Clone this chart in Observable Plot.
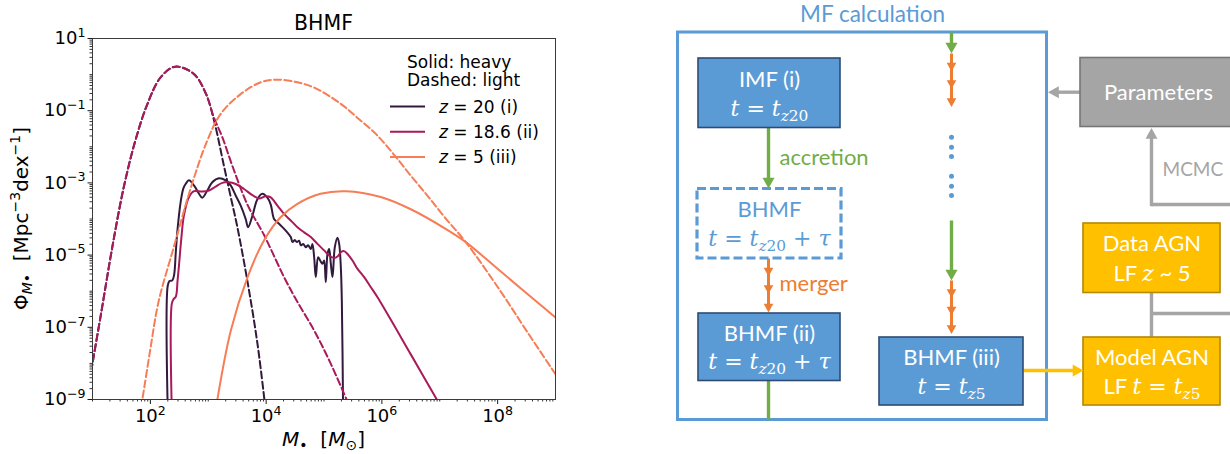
<!DOCTYPE html>
<html>
<head>
<meta charset="utf-8">
<script src="https://cdn.jsdelivr.net/npm/d3@7"></script>
<script src="https://cdn.jsdelivr.net/npm/@observablehq/plot@0.6"></script>
<style>
  html, body { margin: 0; padding: 0; background: #fff; overflow: hidden; }
  #wrap { display: flex; width: 1230px; height: 454px; }
  #wrap svg { display: block; flex: none; }
</style>
</head>
<body>
<div id="wrap"></div>
<script>
// ---------- BHMF curves: log10 M [Msun] and log10 Phi [Mpc^-3 dex^-1] ----------
// heavy seeds (solid)
const heavyZ20LogM   = [2.300, 2.300, 2.330, 2.380, 2.410, 2.440, 2.465, 2.523, 2.570, 2.609, 2.667, 2.753, 2.840, 2.897, 2.984, 3.070, 3.186, 3.301, 3.388, 3.474, 3.561, 3.647, 3.688, 3.763, 3.849, 3.936, 4.022, 4.080, 4.137, 4.195, 4.253, 4.339, 4.426, 4.455, 4.495, 4.530, 4.570, 4.599, 4.639, 4.685, 4.726, 4.772, 4.800, 4.830, 4.858, 4.898, 4.933, 4.974, 5.002, 5.031, 5.060, 5.089, 5.118, 5.147, 5.187, 5.233, 5.262, 5.291, 5.308, 5.330];
const heavyZ20LogPhi = [-9.30, -5.85, -5.72, -5.70, -5.55, -4.90, -4.36, -3.53, -3.15, -3.03, -2.93, -3.07, -3.30, -3.41, -3.21, -2.98, -2.87, -2.93, -3.07, -3.35, -3.63, -4.00, -4.23, -3.91, -3.45, -3.30, -3.41, -3.60, -4.00, -4.09, -4.18, -4.32, -4.50, -4.64, -4.58, -4.64, -4.60, -4.73, -4.69, -4.78, -4.73, -4.83, -4.69, -5.06, -5.61, -5.06, -5.15, -5.24, -5.15, -5.75, -4.97, -4.83, -5.24, -5.61, -4.78, -4.52, -4.69, -5.34, -6.26, -9.30];

const heavyZ186LogM   = [2.370, 2.370, 2.400, 2.440, 2.470, 2.494, 2.534, 2.580, 2.667, 2.753, 2.897, 3.013, 3.128, 3.243, 3.359, 3.474, 3.618, 3.763, 3.878, 3.993, 4.080, 4.195, 4.310, 4.426, 4.541, 4.656, 4.772, 4.887, 5.002, 5.089, 5.175, 5.233, 5.291, 5.348, 5.406, 5.492, 5.579, 5.694, 5.810, 5.925, 6.500, 6.960];
const heavyZ186LogPhi = [-9.30, -6.35, -6.22, -6.15, -5.70, -5.29, -4.55, -3.90, -3.39, -3.23, -3.24, -3.21, -3.10, -3.00, -2.98, -3.03, -3.17, -3.34, -3.43, -3.37, -3.40, -3.63, -3.86, -4.04, -4.23, -4.37, -4.50, -4.69, -4.87, -5.01, -5.08, -5.04, -4.92, -4.89, -4.97, -5.15, -5.38, -5.61, -5.89, -6.17, -7.75, -9.03];

const heavyZ5LogM   = [3.14, 3.39, 3.68, 3.96, 4.25, 4.54, 4.94, 5.38, 5.98, 6.50, 7.13, 7.45, 8.05, 9.00];
const heavyZ5LogPhi = [-9.17, -7.09, -5.61, -4.60, -3.95, -3.58, -3.30, -3.23, -3.39, -3.73, -4.30, -4.64, -5.45, -6.73];

// light seeds (dashed)
const lightZ20LogM   = [0.95, 1.00, 1.15, 1.34, 1.54, 1.74, 1.95, 2.18, 2.43, 2.75, 2.96, 3.10, 3.27, 3.39, 3.50, 3.68, 3.85, 3.97];
const lightZ20LogPhi = [-8.50, -8.00, -6.60, -4.80, -3.12, -1.83, -0.81, -0.07, 0.22, 0.02, -0.53, -1.27, -2.52, -3.40, -4.20, -5.75, -7.45, -9.00];

const lightZ186LogM   = [0.95, 1.00, 1.15, 1.34, 1.54, 1.74, 1.95, 2.18, 2.43, 2.75, 2.96, 3.10, 3.24, 3.415, 3.676, 3.96, 4.08, 4.31, 4.51, 4.83, 5.10, 5.39];
const lightZ186LogPhi = [-8.50, -8.00, -6.60, -4.80, -3.12, -1.83, -0.81, -0.07, 0.22, 0.02, -0.53, -1.20, -1.72, -2.52, -3.60, -4.43, -4.83, -5.61, -6.21, -7.09, -7.95, -9.00];

const lightZ5LogM   = [1.80, 1.86, 2.00, 2.14, 2.41, 2.70, 2.98, 3.21, 3.56, 3.91, 4.17, 4.50, 4.83, 5.29, 5.58, 5.90, 6.20, 6.50, 6.80, 7.10, 7.45, 8.05, 8.50, 9.00];
const lightZ5LogPhi = [-9.50, -9.00, -7.60, -6.30, -4.75, -3.13, -1.84, -1.10, -0.54, -0.21, -0.14, -0.20, -0.36, -0.81, -1.20, -1.65, -2.20, -2.80, -3.38, -3.98, -4.64, -6.00, -7.10, -8.30];

// legend entries
const legendLabels = ["i:z|t: = 20 (i)", "i:z|t: = 18.6 (ii)", "i:z|t: = 5 (iii)"];
const legendNotes = ["Solid: heavy", "Dashed: light"];

// axis ticks
const xMajor = [1e2, 1e4, 1e6, 1e8];
const yMajor = [1e1, 1e-1, 1e-3, 1e-5, 1e-7, 1e-9];

// ---------- flow diagram content ----------
const flowFrame = [{x1: 677.5, x2: 1046.5, y1: 32, y2: 419.5}];
const flowBoxes = [
  {id: "imf",    x1: 698,  x2: 840,  y1: 58,    y2: 127.5, kind: "blue"},
  {id: "tau",    x1: 697,  x2: 841,  y1: 188.5, y2: 258,   kind: "dashed"},
  {id: "ii",     x1: 698,  x2: 840,  y1: 313,   y2: 380.5, kind: "blue"},
  {id: "iii",    x1: 879,  x2: 1023, y1: 337,   y2: 405,   kind: "blue"},
  {id: "model",  x1: 1083, x2: 1220, y1: 337,   y2: 405,   kind: "yellow"},
  {id: "data",   x1: 1083, x2: 1220, y1: 223,   y2: 292.5, kind: "yellow"},
  {id: "params", x1: 1080, x2: 1250, y1: 57.5,  y2: 126.5, kind: "gray"}
];
const flowLinks = [
  {x1: 768,  y1: 127.5, x2: 768,  y2: 180,   kind: "green"},
  {x1: 768,  y1: 380.5, x2: 768,  y2: 419,   kind: "green"},
  {x1: 951,  y1: 32,    x2: 951,  y2: 46,    kind: "green"},
  {x1: 951,  y1: 220,   x2: 951,  y2: 272,   kind: "green"},
  {x1: 768,  y1: 258,   x2: 768,  y2: 305,   kind: "orange"},
  {x1: 951,  y1: 53,    x2: 951,  y2: 100,   kind: "orange"},
  {x1: 951,  y1: 280,   x2: 951,  y2: 327,   kind: "orange"},
  {x1: 1023, y1: 370,   x2: 1074, y2: 370,   kind: "yellow"},
  {x1: 1080, y1: 91.7,  x2: 1057, y2: 91.7,  kind: "gray"},
  {x1: 1151, y1: 292.5, x2: 1151, y2: 337,   kind: "gray"},
  {x1: 1151, y1: 313,   x2: 1250, y2: 313,   kind: "gray"},
  {x1: 1151, y1: 204,   x2: 1250, y2: 204,   kind: "gray"},
  {x1: 1151, y1: 205.7, x2: 1151, y2: 137,   kind: "gray"}
];
const flowHeads = [
  {x: 768,  y: 188,   dir: "down",  kind: "green"},
  {x: 951,  y: 53,    dir: "down",  kind: "green"},
  {x: 951,  y: 280,   dir: "down",  kind: "green"},
  {x: 768,  y: 276,   dir: "down",  kind: "orange"},
  {x: 768,  y: 293.5, dir: "down",  kind: "orange"},
  {x: 768,  y: 312,   dir: "down",  kind: "orange"},
  {x: 951,  y: 71,    dir: "down",  kind: "orange"},
  {x: 951,  y: 88.5,  dir: "down",  kind: "orange"},
  {x: 951,  y: 106.5, dir: "down",  kind: "orange"},
  {x: 951,  y: 297.5, dir: "down",  kind: "orange"},
  {x: 951,  y: 315,   dir: "down",  kind: "orange"},
  {x: 951,  y: 333.5, dir: "down",  kind: "orange"},
  {x: 1083, y: 370,   dir: "right", kind: "yellow"},
  {x: 1047.5, y: 91.7, dir: "left", kind: "gray"},
  {x: 1151, y: 127.5, dir: "up",    kind: "gray"}
];
const flowDots = [136.7, 146.7, 156, 175.7, 185.7, 195].map(y => ({x: 951, y}));
const flowLabels = [
  {x: 872,    y: 14.5,  text: "MF calculation", role: "title"},
  {x: 769,    y: 79,    text: "IMF (i)", role: "fill"},
  {x: 769,    y: 108.5, text: "m:t|M: = |m:t|ms:z|Ms:20", role: "fill"},
  {x: 779,    y: 157,   text: "accretion", role: "green"},
  {x: 769,    y: 209.7, text: "BHMF", role: "outline"},
  {x: 769,    y: 238.7, text: "m:t|M: = |m:t|ms:z|Ms:20|M: + |m:τ", role: "outline"},
  {x: 779,    y: 283,   text: "merger", role: "orange"},
  {x: 769,    y: 333,   text: "BHMF (ii)", role: "fill"},
  {x: 769,    y: 361.3, text: "m:t|M: = |m:t|ms:z|Ms:20|M: + |m:τ", role: "fill"},
  {x: 951,    y: 357,   text: "BHMF (iii)", role: "fill"},
  {x: 951,    y: 386.3, text: "m:t|M: = |m:t|ms:z|Ms:5", role: "fill"},
  {x: 1151.5, y: 357,   text: "Model AGN", role: "fill"},
  {x: 1151.5, y: 386.3, text: "t:LF |m:t|M: = |m:t|ms:z|Ms:5", role: "fill"},
  {x: 1151.5, y: 243.7, text: "Data AGN", role: "fill"},
  {x: 1151.5, y: 273,   text: "t:LF |m:z|t: ~ 5", role: "fill"},
  {x: 1158,   y: 92.3,  text: "Parameters", role: "fill"},
  {x: 1162,   y: 169,   text: "MCMC", role: "gray"}
];

// ---------- styling ----------
const C20 = "#321a3c", C186 = "#aa195a", C5 = "#f67d55";
const BLUE = "#5b9bd5", GREEN = "#70ad47", ORANGE = "#ed7d31", GOLD = "#ffc000", GREY = "#a5a5a5";
const SERIF = "'DejaVu Serif'";
const SANS = "'DejaVu Sans'";
const SVGNS = "http://www.w3.org/2000/svg";

// tiny markup: "code:text|code:text" -> tspans (italic / sub / superscript / math serif)
const STYLES = {
  t:  {},
  i:  {italic: true},
  s:  {scale: 0.7, shift: 0.2},
  is: {italic: true, scale: 0.7, shift: 0.2},
  p:  {scale: 0.7, shift: -0.42},
  m:  {serif: true, italic: true},
  M:  {serif: true},
  ms: {serif: true, italic: true, scale: 0.7, shift: 0.22},
  Ms: {serif: true, scale: 0.7, shift: 0.22}
};
function applyRich(el, px) {
  const src = el.textContent;
  if (!src.includes("|") && !/^[a-zA-Z]{1,2}:/.test(src)) return;
  el.textContent = "";
  el.style.whiteSpace = "pre";
  let shift = 0;
  for (const seg of src.split("|")) {
    const k = seg.indexOf(":");
    const st = STYLES[seg.slice(0, k)] || {};
    const ts = document.createElementNS(SVGNS, "tspan");
    const target = (st.shift || 0) * px;
    if (target !== shift) ts.setAttribute("dy", (target - shift).toFixed(2));
    shift = target;
    if (st.scale) ts.setAttribute("font-size", (px * st.scale).toFixed(2));
    if (st.serif) ts.setAttribute("font-family", SERIF);
    if (st.italic) ts.setAttribute("font-style", "italic");
    ts.textContent = seg.slice(k + 1);
    el.appendChild(ts);
  }
}
function richAll(svg) {
  svg.querySelectorAll("text").forEach(el => {
    if (el.querySelector("tspan")) return;
    applyRich(el, parseFloat(getComputedStyle(el).fontSize));
  });
}

// ---------- BHMF chart ----------
const rows = (logM, logPhi) => logM.map((m, i) => ({M: 10 ** m, phi: 10 ** logPhi[i]}));
const chartSeries = [
  {color: C20,  dashed: false, data: rows(heavyZ20LogM, heavyZ20LogPhi)},
  {color: C20,  dashed: true,  data: rows(lightZ20LogM, lightZ20LogPhi)},
  {color: C186, dashed: false, data: rows(heavyZ186LogM, heavyZ186LogPhi)},
  {color: C186, dashed: true,  data: rows(lightZ186LogM, lightZ186LogPhi)},
  {color: C5,   dashed: false, data: rows(heavyZ5LogM, heavyZ5LogPhi)},
  {color: C5,   dashed: true,  data: rows(lightZ5LogM, lightZ5LogPhi)}
];

const minorTicks = (lo, hi, majors) => {
  const out = [];
  for (let e = lo; e < hi; e++) for (let k = 1; k <= 9; k++) {
    const v = k * 10 ** e;
    if (!majors.some(m => Math.abs(m / v - 1) < 1e-9)) out.push(v);
  }
  return out;
};
const xMinor = minorTicks(1, 9, xMajor);
const yMinor = minorTicks(-9, 1, yMajor);
const expLabel = d => "t:10|p:" + String(Math.round(Math.log10(d))).replace("-", "\u2212");

const chart = Plot.plot({
  width: 600, height: 454,
  marginLeft: 92, marginRight: 45, marginTop: 38, marginBottom: 55,
  x: {type: "log", domain: [1e1, 1e9], label: null},
  y: {type: "log", domain: [1e-9, 1e1], label: null},
  style: {fontFamily: SANS, fontSize: "18px", color: "#000", background: "#fff"},
  marks: [
    Plot.axisX({ticks: xMinor, tickSize: 2.5, tickFormat: () => "", label: null, strokeWidth: 0.8}),
    Plot.axisX({ticks: xMajor, tickSize: 5, tickPadding: 5, tickFormat: expLabel, label: null, fontSize: 18, strokeWidth: 0.9}),
    Plot.axisY({ticks: yMinor, tickSize: 2.5, tickFormat: () => "", label: null, strokeWidth: 0.8}),
    Plot.axisY({ticks: yMajor, tickSize: 4.5, tickPadding: 2.5, tickFormat: expLabel, label: null, fontSize: 18, strokeWidth: 0.9}),
    ...chartSeries.map(s => Plot.line(s.data, {
      x: "M", y: "phi", stroke: s.color, strokeWidth: 2,
      strokeDasharray: s.dashed ? "7,3.3" : null,
      curve: "catmull-rom", clip: true
    })),
    Plot.frame({stroke: "#3a3a3a", strokeWidth: 1})
  ]
});

// ---------- flow diagram ----------
const head = dir => ({
  draw(ctx, size) {
    const r = Math.sqrt(size / Math.PI), L = 1.8 * r;
    ctx.moveTo(0, 0);
    if (dir === "down")  { ctx.lineTo(-r, -L); ctx.lineTo(r, -L); }
    if (dir === "up")    { ctx.lineTo(-r, L);  ctx.lineTo(r, L); }
    if (dir === "left")  { ctx.lineTo(L, -r);  ctx.lineTo(L, r); }
    if (dir === "right") { ctx.lineTo(-L, -r); ctx.lineTo(-L, r); }
    ctx.closePath();
  }
});
const linkColor = {green: GREEN, orange: ORANGE, yellow: GOLD, gray: GREY};
const headSize = {green: 6, orange: 4.8, yellow: 6, gray: 6};
const boxStyle = {
  blue:   {fill: BLUE,   stroke: "#2e4b74", strokeWidth: 1.6},
  dashed: {fill: "#fff", stroke: BLUE, strokeWidth: 3.2, strokeDasharray: "9,4"},
  yellow: {fill: GOLD,   stroke: "#b58800", strokeWidth: 1.6},
  gray:   {fill: GREY,   stroke: "#767676", strokeWidth: 1.6}
};
const labelStyle = {
  title:   {fill: BLUE,   fontSize: 22.5, textAnchor: "middle"},
  fill:    {fill: "#fff", fontSize: 22, textAnchor: "middle"},
  outline: {fill: BLUE,   fontSize: 22, textAnchor: "middle"},
  green:   {fill: GREEN,  fontSize: 22, textAnchor: "start"},
  orange:  {fill: ORANGE, fontSize: 22, textAnchor: "start"},
  gray:    {fill: GREY,   fontSize: 19, textAnchor: "start"}
};

const diagram = Plot.plot({
  width: 630, height: 454, margin: 0,
  x: {domain: [600, 1230], range: [0, 630], axis: null},
  y: {domain: [0, 454], range: [0, 454], axis: null},
  style: {fontFamily: "Lato", background: "#fff", overflow: "hidden"},
  marks: [
    Plot.rect(flowFrame, {x1: "x1", x2: "x2", y1: "y1", y2: "y2", fill: "none", stroke: BLUE, strokeWidth: 3}),
    ...Object.keys(linkColor).map(k => Plot.link(flowLinks.filter(d => d.kind === k), {
      x1: "x1", y1: "y1", x2: "x2", y2: "y2", stroke: linkColor[k], strokeWidth: k === "orange" ? 3 : 3.4
    })),
    ...Object.keys(boxStyle).map(k => Plot.rect(flowBoxes.filter(d => d.kind === k), {
      x1: "x1", x2: "x2", y1: "y1", y2: "y2", ...boxStyle[k]
    })),
    ...["green", "orange", "yellow", "gray"].flatMap(k => ["down", "up", "left", "right"].map(dir =>
      Plot.dot(flowHeads.filter(d => d.kind === k && d.dir === dir), {
        x: "x", y: "y", r: headSize[k], symbol: head(dir), fill: linkColor[k], stroke: "none"
      }))),
    Plot.dot(flowDots, {x: "x", y: "y", r: 2.5, fill: BLUE, stroke: "none"}),
    ...Object.keys(labelStyle).map(k => Plot.text(flowLabels.filter(d => d.role === k), {
      x: "x", y: "y", text: "text", lineAnchor: "middle", ...labelStyle[k]
    }))
  ]
});

const wrap = document.getElementById("wrap");
wrap.appendChild(chart);
wrap.appendChild(diagram);

// chart title, axis labels and legend
const svg = d3.select(chart);
const addText = (x, y, spec, px, anchor, rotate) => {
  const t = svg.append("text")
    .attr("transform", `translate(${x},${y})` + (rotate ? ` rotate(${rotate})` : ""))
    .attr("text-anchor", anchor)
    .attr("font-family", SANS)
    .attr("font-size", px)
    .attr("fill", "#000")
    .text(spec);
  return t.node();
};
addText(323.5, 30, "BHMF", 20.5, "middle");
addText(323.5, 446, "i:M|s:•|t:  [|i:M|s:⊙|t:]", 20, "middle");
addText(28, 218.5, "t:Φ|is:M|s:•|t:  [Mpc|p:\u22123|t:dex|p:\u22121|t:]", 20, "middle", -90);
legendNotes.forEach((s, i) => addText(407, 68 + 18 * i, s, 17, "start"));
const legendColors = [C20, C186, C5];
legendLabels.forEach((s, i) => {
  const y = 106.5 + 25.3 * i;
  svg.append("line").attr("x1", 390).attr("x2", 425).attr("y1", y).attr("y2", y)
    .attr("stroke", legendColors[i]).attr("stroke-width", 2);
  addText(439, y + 6, s, 17, "start");
});

richAll(chart);
richAll(diagram);
</script>
</body>
</html>
